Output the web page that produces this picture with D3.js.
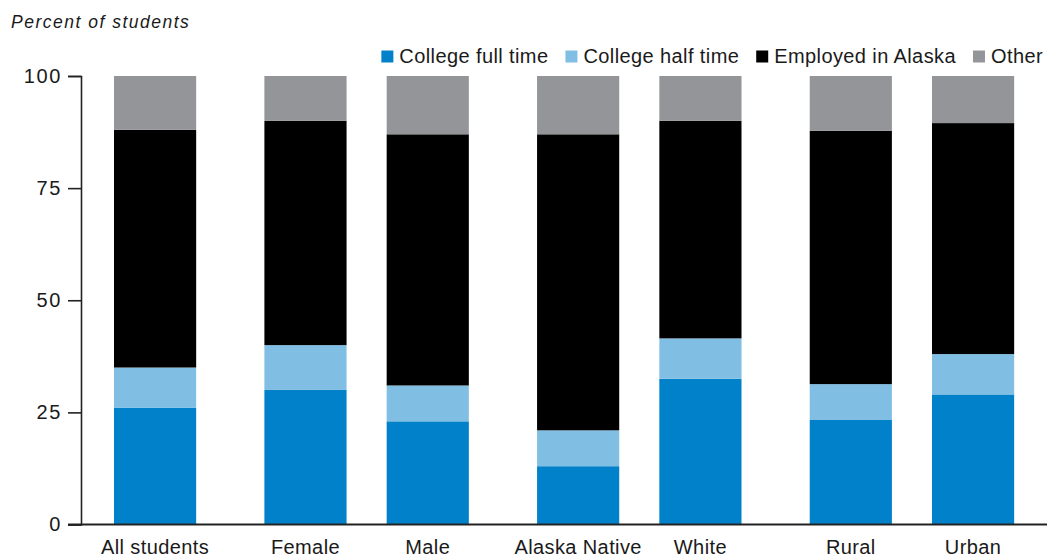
<!DOCTYPE html>
<html>
<head>
<meta charset="utf-8">
<script src="https://cdn.jsdelivr.net/npm/d3@7"></script>
<style>
  html, body { margin: 0; padding: 0; background: #fff; }
  svg { display: block; }
  .lbl { font-family: "Liberation Sans", Arial, sans-serif; fill: #1a1a1a; }
</style>
</head>
<body>
<svg id="chart" width="1047" height="558"></svg>
<script>
// Post-high-school outcomes, percent of students in each group
const categories = ["All students", "Female", "Male", "Alaska Native", "White", "Rural", "Urban"];
const groupIndex = [0, 1, 1, 2, 2, 3, 3];
const collegeFullTime = [26, 30, 23, 13, 32.5, 23.3, 29];
const collegeHalfTime = [9, 10, 8, 8, 9, 8, 9];
const employedInAlaska = [53, 50, 56, 66, 48.5, 56.5, 51.5];
const otherOutcome = [12, 10, 13, 13, 10, 12.2, 10.5];
const seriesNames = ["College full time", "College half time", "Employed in Alaska", "Other"];
const yTicks = [0, 25, 50, 75, 100];

const colors = ["#0081c9", "#80bfe3", "#000000", "#949598"];

const rows = categories.map((c, i) => ({
  category: c,
  slot: i + groupIndex[i] * 0.23,
  "College full time": collegeFullTime[i],
  "College half time": collegeHalfTime[i],
  "Employed in Alaska": employedInAlaska[i],
  "Other": otherOutcome[i]
}));

const svg = d3.select("#chart");

const y = d3.scaleLinear().domain([0, 100]).range([524.5, 76]);
const x = d3.scaleLinear().domain([0, 6.69]).range([114, 932]);
const barW = x(0.672) - x(0);

const stacked = d3.stack().keys(seriesNames)(rows);
const color = d3.scaleOrdinal().domain(seriesNames).range(colors);

// Stacked bars
svg.append("g")
  .selectAll("g")
  .data(stacked)
  .join("g")
    .attr("fill", d => color(d.key))
  .selectAll("rect")
  .data(d => d)
  .join("rect")
    .attr("x", d => x(d.data.slot))
    .attr("y", d => y(d[1]))
    .attr("width", barW)
    .attr("height", d => y(d[0]) - y(d[1]));

// Y axis
const yAxis = svg.append("g")
  .attr("transform", "translate(81,0)")
  .call(d3.axisLeft(y).tickValues(yTicks).tickSize(13).tickSizeOuter(13).tickPadding(6));
yAxis.select(".domain").attr("stroke", "#222").attr("stroke-width", 1.6);
yAxis.selectAll(".tick line").attr("stroke", "#222").attr("stroke-width", 1.6);
yAxis.selectAll(".tick text")
  .attr("class", "lbl")
  .style("font-size", "20px")
  .style("letter-spacing", "1.6px")
  .attr("fill", "#1a1a1a");

// Baseline
svg.append("line")
  .attr("x1", 68).attr("x2", 1047)
  .attr("y1", y(0)).attr("y2", y(0))
  .attr("stroke", "#222").attr("stroke-width", 2);

// Category labels
svg.append("g")
  .selectAll("text")
  .data(rows)
  .join("text")
    .attr("class", "lbl")
    .attr("x", d => x(d.slot) + barW / 2)
    .attr("y", 554)
    .attr("text-anchor", "middle")
    .style("font-size", "20px")
    .style("letter-spacing", "0.4px")
    .text(d => d.category);

// Axis title
svg.append("text")
  .attr("x", 11)
  .attr("y", 28)
  .style("font-family", "'Liberation Sans', Arial, sans-serif")
  .style("font-style", "italic")
  .style("font-size", "17.5px")
  .style("letter-spacing", "1.5px")
  .attr("fill", "#1a1a1a")
  .text("Percent of students");

// Legend, laid out right to left from the right edge
const legend = svg.append("g");
const items = legend.selectAll("g")
  .data(seriesNames)
  .join("g");
items.append("rect")
  .attr("width", 12).attr("height", 12)
  .attr("y", 50.5)
  .attr("fill", d => color(d));
items.append("text")
  .attr("class", "lbl")
  .attr("y", 62.5)
  .style("font-size", "20px")
  .style("letter-spacing", "0.4px")
  .text(d => d);

let cursor = 1043;
const nodes = items.nodes().reverse();
nodes.forEach(n => {
  const g = d3.select(n);
  const w = g.select("text").node().getComputedTextLength();
  const textX = cursor - w;
  g.select("text").attr("x", textX);
  g.select("rect").attr("x", textX - 18);
  cursor = textX - 18 - 17;
});
</script>
</body>
</html>
